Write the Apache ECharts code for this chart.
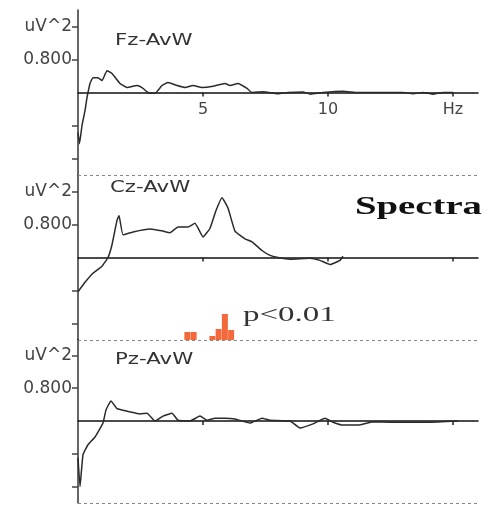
<!DOCTYPE html>
<html>
<head>
<meta charset="utf-8">
<script src="https://cdn.jsdelivr.net/npm/echarts@6/dist/echarts.min.js"></script>
<style>
  html, body { margin: 0; padding: 0; background: #fff; }
  #chart { width: 489px; height: 505px; }
</style>
</head>
<body>
<div id="chart"></div>
<script>
// spectra per channel: frequency (Hz) and power (uV^2)
const fzHz = [0, 0.06, 0.16, 0.28, 0.36, 0.4, 0.48, 0.6, 0.8, 0.96, 1.16, 1.36, 1.68, 1.96, 2.36, 2.56, 2.8, 3.08, 3.36, 3.6, 3.96, 4.28, 4.6, 4.96, 5.4, 5.88, 6.08, 6.4, 6.76, 6.96, 7.4, 8.0, 8.4, 9.0, 9.3, 9.8, 10.6, 11.2, 13.0, 13.4, 13.8, 14.2, 14.6, 15.0]
const fzPower = [-0.97, -1.24, -0.8, -0.44, -0.12, 0.0, 0.22, 0.36, 0.36, 0.29, 0.53, 0.46, 0.22, 0.12, 0.17, 0.12, 0.0, -0.02, 0.17, 0.24, 0.17, 0.12, 0.17, 0.12, 0.15, 0.22, 0.17, 0.22, 0.1, 0.0, 0.02, -0.03, 0.0, 0.01, -0.04, 0.0, 0.03, 0.0, 0.0, -0.03, 0.0, -0.04, 0.0, 0.0]

const czHz = [0, 0.28, 0.6, 0.96, 1.2, 1.36, 1.56, 1.64, 1.8, 2.2, 2.88, 3.4, 3.68, 4.0, 4.4, 4.68, 5.0, 5.28, 5.52, 5.76, 6.0, 6.28, 6.68, 6.96, 7.36, 7.68, 8.0, 8.48, 9.28, 9.68, 10.08, 10.48, 10.6]
const czPower = [-0.83, -0.6, -0.38, -0.21, 0.0, 0.31, 0.9, 1.02, 0.55, 0.62, 0.69, 0.64, 0.6, 0.74, 0.74, 0.83, 0.5, 0.71, 1.14, 1.45, 1.2, 0.64, 0.45, 0.38, 0.17, 0.05, 0.0, -0.04, -0.02, -0.07, -0.17, -0.07, 0.03]

const pzHz = [0, 0.08, 0.2, 0.4, 0.68, 1.0, 1.12, 1.32, 1.56, 1.76, 2.08, 2.48, 2.76, 3.08, 3.4, 3.76, 4.0, 4.48, 4.88, 5.16, 5.48, 5.88, 6.28, 6.88, 7.36, 7.68, 8.48, 8.88, 9.4, 9.88, 10.2, 10.6, 11.2, 11.8, 12.5, 14.0, 15.2]
const pzPower = [-0.9, -1.6, -0.82, -0.58, -0.39, -0.05, 0.27, 0.49, 0.3, 0.27, 0.22, 0.17, 0.19, 0.0, 0.12, 0.19, 0.02, 0.0, 0.12, 0.02, 0.07, 0.07, 0.05, -0.05, 0.07, 0.02, 0.0, -0.17, -0.07, 0.07, -0.03, -0.1, -0.1, -0.02, -0.03, -0.03, 0.0]

// significance bins (Cz)
const sigHz = [4.375, 4.625, 5.375, 5.625, 5.875, 6.125]
const sigLevel = [8, 8, 4, 11, 26, 10]

const channels = ['Fz-AvW', 'Cz-AvW', 'Pz-AvW']
const yTicks = [-1.6, -0.8, 0.8, 1.6]
const yLabelTicks = [0.8, 1.6]
const yLabelText = { '0.8': '0.800', '1.6': 'uV^2' }
const xTicks = [5, 10, 15]
const xLabelText = { 5: '5', 10: '10', 15: 'Hz' }

const pairs = (xs, ys) => xs.map((x, i) => [x, ys[i]])
const curves = [pairs(fzHz, fzPower), pairs(czHz, czPower), pairs(pzHz, pzPower)]

const chart = echarts.init(document.getElementById('chart'))

const grids = [
  { left: 78, width: 400, top: 10, height: 165 },
  { left: 78, width: 400, top: 175, height: 165 },
  { left: 78, width: 400, top: 339, height: 164 },
  { left: 78, width: 400, top: 300, height: 40 }
]

// x axis sits at power 0, i.e. middle of each panel
const xAxes = [0, 1, 2].map(i => ({
  gridIndex: i, type: 'value', min: 0, max: 16,
  offset: -grids[i].height / 2,
  axisLine: { onZero: false, lineStyle: { color: '#111', width: 1.5 } },
  axisTick: { show: true, customValues: xTicks, length: 4, lineStyle: { color: '#222', width: 1.5 } },
  axisLabel: {
    show: i === 0, customValues: xTicks, formatter: v => xLabelText[v],
    fontFamily: 'DejaVu Sans', fontSize: 16, color: '#444', margin: 9
  },
  splitLine: { show: false }
}))
xAxes.push({ gridIndex: 3, type: 'value', min: 0, max: 16, show: false })

const yAxes = [0, 1, 2].map(i => ({
  gridIndex: i, type: 'value', min: -2, max: 2,
  axisLine: { show: true, onZero: false, lineStyle: { color: '#333', width: 1.5 } },
  axisTick: { show: true, customValues: yTicks, length: 6, lineStyle: { color: '#444', width: 1.5 } },
  axisLabel: {
    show: true, customValues: yLabelTicks, formatter: v => yLabelText[String(v)],
    fontFamily: 'DejaVu Sans', fontSize: 17, color: '#444', margin: 6
  },
  splitLine: { show: false }
}))
yAxes.push({ gridIndex: 3, type: 'value', min: 0, max: 40, show: false })

const series = curves.map((data, i) => ({
  type: 'line', xAxisIndex: i, yAxisIndex: i, data,
  showSymbol: false, smooth: 0.12,
  lineStyle: { color: '#2a2a2a', width: 1.5 },
  markLine: {
    silent: true, symbol: 'none', label: { show: false },
    lineStyle: { color: '#888', width: 1, type: [3, 3] },
    data: [{ yAxis: -2 }]
  }
}))
series.push({
  type: 'bar', xAxisIndex: 3, yAxisIndex: 3,
  data: pairs(sigHz, sigLevel), barWidth: 6,
  itemStyle: { color: '#f26a3c' }
})

const titlePos = [[115, 41], [110, 188], [115, 360]]
const graphic = channels.map((name, i) => ({
  type: 'text', x: titlePos[i][0], y: titlePos[i][1], scaleX: 1.42,
  style: { text: name, fill: '#333', font: '15px "DejaVu Sans"', verticalAlign: 'middle' }
}))
graphic.push({
  type: 'text', x: 355, y: 208, scaleX: 1.55,
  style: { text: 'Spectra', fill: '#111', font: 'bold 25px "Liberation Serif"', verticalAlign: 'middle' }
})
graphic.push({
  type: 'text', x: 243, y: 315, scaleX: 1.5,
  style: { text: 'p<0.01', fill: '#333', font: '22px "Liberation Serif"', verticalAlign: 'middle' }
})

chart.setOption({
  animation: false,
  grid: grids,
  xAxis: xAxes,
  yAxis: yAxes,
  series,
  graphic
})
</script>
</body>
</html>
